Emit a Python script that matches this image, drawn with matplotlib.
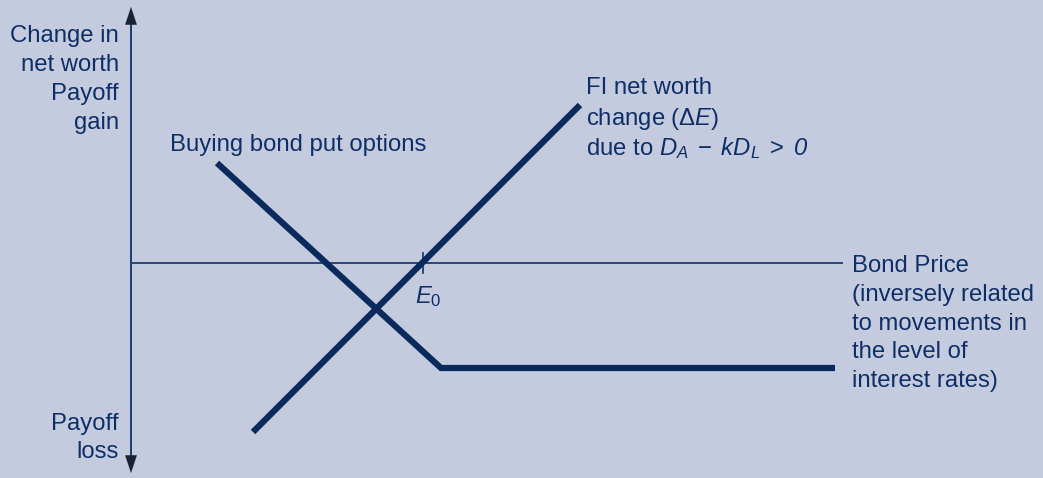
import matplotlib
matplotlib.use("Agg")
import matplotlib.pyplot as plt

plt.rcParams['font.family'] = ['Liberation Sans', 'DejaVu Sans']
plt.rcParams['mathtext.fontset'] = 'custom'
plt.rcParams['mathtext.rm'] = 'Liberation Sans'
plt.rcParams['mathtext.it'] = 'Liberation Sans:italic'
plt.rcParams['mathtext.bf'] = 'Liberation Sans:bold'
plt.rcParams['mathtext.sf'] = 'Liberation Sans:italic'
plt.rcParams['mathtext.default'] = 'it'

# ---- data (logical units: origin at axes crossing) ----
fi_x = [122, 449]            # FI net worth change line
fi_y = [-169, 158]
put_x = [86, 310, 704]       # buying bond put options payoff
put_y = [100, -105, -105]
e0_x = 292                   # E0 point on the bond price axis

y_label_top = "Change in\nnet worth\nPayoff\ngain"
y_label_bottom = "Payoff\nloss"
x_label = "Bond Price\n(inversely related\nto movements in\nthe level of\ninterest rates)"
put_label = "Buying bond put options"
fi_label_lines = ["FI net worth", r"change (Δ$E$)", r"due to $D_A\;-\;kD_L\;>\;\mathsf{0}$"]
e0_label = r"$E_\mathrm{0}$"

BG = "#C5CBDF"
LINE = "#0B2A5C"
TXT = "#0E2F66"
AX = "#1E3C70"

fig = plt.figure(figsize=(10.43, 4.78), dpi=100, facecolor=BG)
ax = fig.add_axes([0, 0, 1, 1])
ax.set_facecolor(BG)
ax.set_xlim(-131, 912)
ax.set_ylim(-215, 263)
ax.axis('off')

# axes
ax.plot([0, 0], [-200, 246], color=AX, lw=1.4, solid_capstyle='butt')
ax.annotate("", xy=(0, 256), xytext=(0, 240),
            arrowprops=dict(arrowstyle='-|>,head_length=0.9,head_width=0.3',
                            color="#1A2233", lw=0.1, shrinkA=0, shrinkB=0, mutation_scale=14))
ax.annotate("", xy=(0, -210), xytext=(0, -194),
            arrowprops=dict(arrowstyle='-|>,head_length=0.9,head_width=0.3',
                            color="#1A2233", lw=0.1, shrinkA=0, shrinkB=0, mutation_scale=14))
ax.plot([0, 712], [0, 0], color=AX, lw=1.3, solid_capstyle='butt')
ax.plot([e0_x, e0_x], [-10, 10], color=AX, lw=1.3)

# payoff lines
ax.plot(fi_x, fi_y, color=LINE, lw=4.5, solid_capstyle='butt')
ax.plot(put_x, put_y, color=LINE, lw=4.5, solid_capstyle='butt', solid_joinstyle='miter')

fs = 17.2
ls = 1.40
ax.text(-12, 183.5, y_label_top, ha='right', va='center', fontsize=fs, color=TXT,
        linespacing=ls, multialignment='right')
ax.text(-12, -175, y_label_bottom, ha='right', va='center', fontsize=fs, color=TXT,
        linespacing=ls, multialignment='right')
ax.text(721, -60.5, x_label, ha='left', va='center', fontsize=fs, color=TXT,
        linespacing=ls)
ax.text(39, 118, put_label, ha='left', va='center', fontsize=fs, color=TXT)
for i, s in enumerate(fi_label_lines):
    ax.text(455, 263 - 86 - 29.5 * i, s, ha='left', va='center_baseline', fontsize=fs, color=TXT)
ax.text(284, -34, e0_label, ha='left', va='center', fontsize=fs, color=TXT)

fig.savefig("out.png", dpi=100, facecolor=BG)
